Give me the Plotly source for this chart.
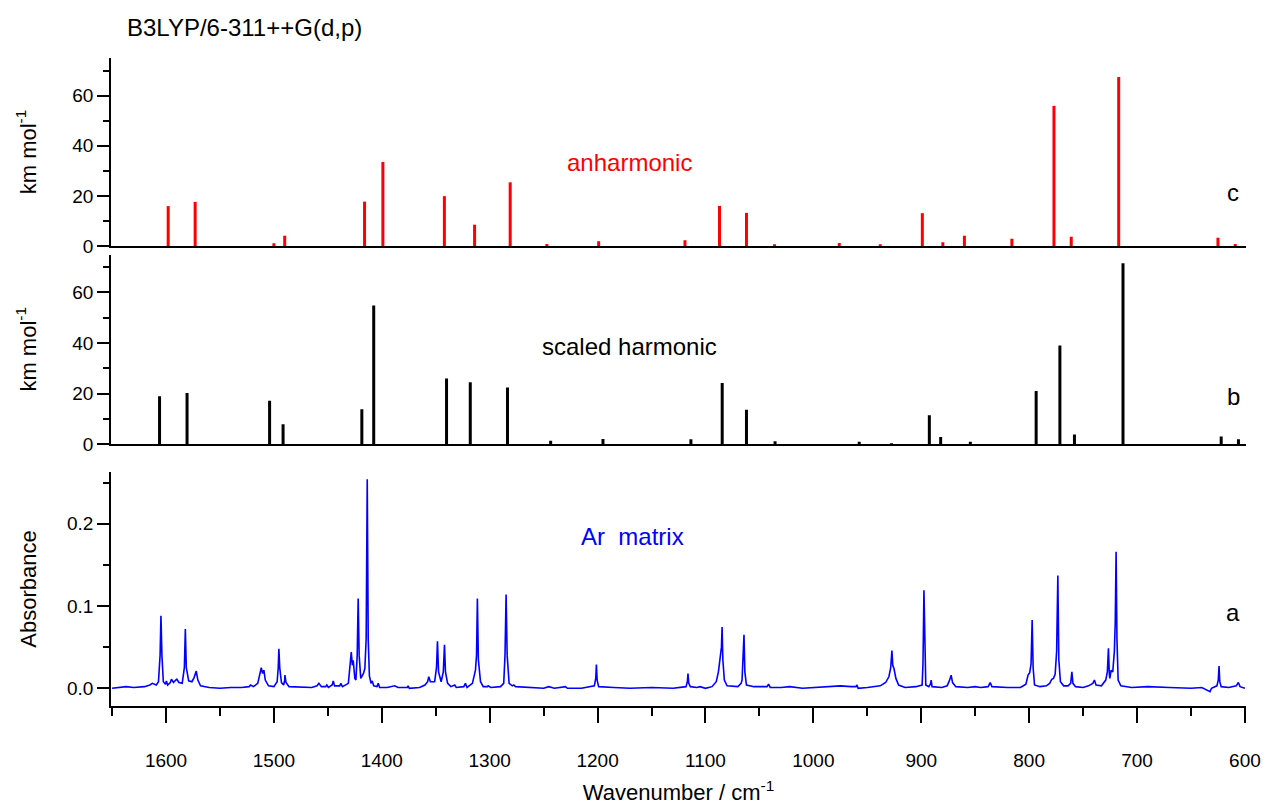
import plotly.graph_objects as go

# ---------------- data ----------------
# (c) anharmonic calculated intensities
anh_wn = [1598, 1573, 1500, 1490, 1416, 1399, 1342, 1314, 1281, 1247, 1199, 1119,
          1087, 1062, 1036, 976, 938, 899, 880, 860, 816, 777, 761, 717, 625, 609]
anh_int = [15.9, 17.6, 1.1, 4.1, 17.7, 33.5, 19.9, 8.5, 25.4, 0.8, 1.9, 2.3,
           16.0, 13.2, 0.7, 1.2, 0.7, 13.1, 1.5, 4.1, 2.9, 55.9, 3.7, 67.4, 3.3, 0.8]

# (b) scaled harmonic calculated intensities
harm_wn = [1606, 1580.5, 1504, 1491.5, 1418.5, 1407.5, 1340, 1318, 1283.5, 1243.5, 1195, 1113.5,
           1084.5, 1062, 1035.5, 957.5, 927.5, 892.5, 882, 854.5, 793.5, 771.5, 758, 713, 622, 606]
harm_int = [18.9, 20.2, 17.1, 7.8, 13.8, 54.8, 25.9, 24.5, 22.4, 1.3, 2.0, 1.9,
            24.2, 13.6, 1.1, 0.9, 0.3, 11.4, 2.8, 0.9, 21.0, 39.0, 3.8, 71.6, 3.0, 1.9]

# (a) Ar matrix IR spectrum (wavenumber, absorbance)
spec_wn = [
    1650, 1645, 1637, 1630, 1620, 1615, 1612.7, 1609, 1607, 1605.5, 1604.7, 1603.8, 1602.5,
    1600.5, 1599.7, 1598.5, 1596, 1595, 1593, 1591, 1590, 1588, 1585, 1583, 1582.1, 1581.2,
    1579, 1576, 1574, 1572, 1570.5, 1568, 1560, 1550, 1540, 1530, 1523, 1521.6, 1519, 1515,
    1512.5, 1511.7, 1510.5, 1509.3, 1508, 1505, 1500, 1497, 1496, 1495.4, 1494.6, 1493, 1491,
    1490, 1489.8, 1488.8, 1486, 1475, 1465, 1460, 1458.3, 1456, 1452, 1451, 1449.5, 1446, 1445,
    1443.8, 1439, 1438, 1436.5, 1431, 1429.5, 1428.3, 1427.3, 1426.5, 1425, 1424, 1422.8,
    1421.9, 1421, 1419.5, 1417, 1415.7, 1414.5, 1413.5, 1412.6, 1411.5, 1410, 1408.9, 1407.5,
    1404.5, 1403.3, 1402, 1395, 1388, 1385, 1376.5, 1375.6, 1374.5, 1365, 1360, 1357.5, 1356.5,
    1355, 1351, 1349.3, 1348.4, 1347.4, 1345, 1343, 1341.9, 1341, 1339, 1336, 1332.4, 1331,
    1324, 1322.5, 1321, 1316, 1313.2, 1312.2, 1311.4, 1310.5, 1308.5, 1306, 1302, 1301.4, 1299,
    1290, 1287, 1285.8, 1284.8, 1283.8, 1282, 1279, 1277.7, 1276, 1265, 1250, 1245.3, 1240,
    1229.8, 1228, 1215, 1203, 1201.7, 1201.1, 1200.4, 1199, 1185, 1170, 1150, 1130, 1118,
    1116.8, 1116.2, 1115.5, 1114, 1108, 1105, 1100, 1094, 1090, 1088, 1086.2, 1085.2, 1084.6,
    1083.9, 1082.5, 1080, 1070, 1067, 1066.1, 1065.2, 1064.3, 1063.5, 1062, 1055, 1043, 1041.5,
    1040, 1030, 1022, 1010, 1000, 985, 975, 965, 960.5, 959.6, 958.5, 950, 938, 933, 930, 928.3,
    927.2, 926.4, 925.3, 923.5, 921, 915, 905, 899.2, 898.4, 897.5, 896.7, 895.8, 893, 891.5,
    890.8, 890, 881, 876, 874, 872.3, 871, 868, 857, 850, 845, 838, 836.1, 834.5, 820, 808, 803,
    801, 799.5, 798.2, 797.2, 796.3, 795, 790, 784, 781, 779, 777.5, 775.9, 774.5, 773.4, 772.5,
    771, 768, 764, 761.5, 760.4, 759.4, 757, 750, 745, 741, 739.5, 738, 733, 729, 727.5, 726.5,
    725.7, 725.2, 724, 722.5, 721, 720.2, 719.4, 718.6, 717.5, 715, 705, 690, 670, 650, 640, 635,
    632.3, 631, 626, 624.7, 624, 623.3, 622, 615, 608, 606.1, 604.5, 600]
spec_abs = [
    0.000, 0.001, 0.002, 0.001, 0.002, 0.004, 0.006, 0.004, 0.008, 0.040, 0.088, 0.040, 0.008,
    0.005, 0.009, 0.004, 0.007, 0.011, 0.007, 0.010, 0.011, 0.007, 0.006, 0.025, 0.072, 0.025,
    0.009, 0.008, 0.013, 0.021, 0.010, 0.003, 0.001, 0.000, 0.001, 0.001, 0.002, 0.004, 0.002, 0.006,
    0.018, 0.025, 0.018, 0.022, 0.010, 0.003, 0.002, 0.008, 0.025, 0.048, 0.025, 0.007, 0.004,
    0.010, 0.016, 0.007, 0.002, 0.001, 0.001, 0.003, 0.006, 0.002, 0.002, 0.004, 0.001, 0.004, 0.009,
    0.003, 0.003, 0.006, 0.002, 0.006, 0.025, 0.044, 0.028, 0.034, 0.012, 0.010, 0.040,
    0.109, 0.040, 0.012, 0.018, 0.024, 0.060, 0.254, 0.060, 0.015, 0.006, 0.009, 0.003,
    0.002, 0.006, 0.001, 0.001, 0.003, 0.001, 0.001, 0.003, 0.000, 0.001, 0.004, 0.008, 0.014,
    0.008, 0.008, 0.025, 0.057, 0.020, 0.008, 0.020, 0.053, 0.020, 0.006, 0.002, 0.004, 0.001,
    0.002, 0.006, 0.001, 0.006, 0.022, 0.040, 0.109, 0.035, 0.008, 0.002, 0.002, 0.003, 0.001,
    0.002, 0.006, 0.040, 0.114, 0.040, 0.006, 0.003, 0.004, 0.002, 0.001, 0.000, 0.002, 0.000,
    0.002, 0.000, 0.000, 0.003, 0.012, 0.029, 0.010, 0.002, 0.001, 0.000, 0.001, 0.000, 0.002,
    0.008, 0.018, 0.006, 0.002, 0.001, 0.002, 0.000, 0.002, 0.008, 0.020, 0.043, 0.050, 0.0745,
    0.035, 0.010, 0.003, 0.002, 0.006, 0.010, 0.030, 0.065, 0.020, 0.004, 0.002, 0.002, 0.005,
    0.001, 0.001, 0.002, 0.000, 0.001, 0.002, 0.003, 0.002, 0.002, 0.004, 0.000, 0.001, 0.003, 0.007, 0.014, 0.025,
    0.046, 0.028, 0.024, 0.012, 0.004, 0.001, 0.002, 0.004, 0.030, 0.119, 0.030, 0.004, 0.002, 0.005,
    0.010, 0.002, 0.001, 0.003, 0.009, 0.016, 0.007, 0.002, 0.001, 0.002, 0.001, 0.002, 0.007, 0.002, 0.001, 0.001, 0.005,
    0.016, 0.019, 0.030, 0.083, 0.025, 0.004, 0.002, 0.003, 0.006, 0.011, 0.012, 0.017, 0.045, 0.137, 0.035,
    0.008, 0.003, 0.003, 0.006, 0.020, 0.006, 0.002, 0.001, 0.003, 0.006, 0.010, 0.004, 0.003, 0.010, 0.020, 0.0486,
    0.018, 0.012, 0.022, 0.020, 0.045, 0.080, 0.166, 0.060, 0.010, 0.003, 0.001, 0.002, 0.001, 0.000, 0.001, -0.002,
    -0.004, 0.000, 0.003, 0.010, 0.027, 0.008, 0.002, 0.001, 0.003, 0.007, 0.002, 0.000]

# labels
panel_title = "B3LYP/6-311++G(d,p)"
label_c, label_b, label_a = "anharmonic", "scaled harmonic", "Ar  matrix"
x_title = "Wavenumber / cm<sup>-1</sup>"
y_title_calc = "km mol<sup>-1</sup>"
y_title_exp = "Absorbance"


def sticks(wn, inten):
    xs, ys = [], []
    for w, h in zip(wn, inten):
        xs += [w, w, None]
        ys += [0, h, None]
    return xs, ys


FONT = "Arial, Liberation Sans, sans-serif"
XR = [1651, 599]

fig = go.Figure()
ax, ay = sticks(anh_wn, anh_int)
fig.add_trace(go.Scatter(x=ax, y=ay, mode="lines", line=dict(color="#ff0000", width=3),
                         xaxis="x", yaxis="y", showlegend=False, hoverinfo="skip"))
hx, hy = sticks(harm_wn, harm_int)
fig.add_trace(go.Scatter(x=hx, y=hy, mode="lines", line=dict(color="#000000", width=3),
                         xaxis="x2", yaxis="y2", showlegend=False, hoverinfo="skip"))
fig.add_trace(go.Scatter(x=spec_wn, y=spec_abs, mode="lines", line=dict(color="#0000ff", width=1.6),
                         xaxis="x3", yaxis="y3", showlegend=False))

axis_common = dict(showgrid=False, zeroline=False, linecolor="black", linewidth=1.5, automargin=False,
                   tickcolor="black", tickwidth=1.5, tickfont=dict(family=FONT, size=19, color="black"))

yax_km = dict(range=[0, 75], tickvals=[0, 20, 40, 60], ticks="outside", ticklen=12,
              showline=True, minor=dict(tickvals=[10, 30, 50, 70], ticks="outside", ticklen=6,
                                        tickcolor="black", tickwidth=1.5),
              title=dict(text=y_title_calc, font=dict(family=FONT, size=22, color="black"), standoff=30),
              **axis_common)

fig.update_layout(
    width=1265, height=805,
    margin=dict(l=111, r=19, t=58, b=99, autoexpand=False),
    paper_bgcolor="white", plot_bgcolor="white",
    font=dict(family=FONT, color="black"),
    xaxis=dict(domain=[0, 1], range=XR, anchor="y", matches="x3", showline=True, ticks="",
               showticklabels=False, **axis_common),
    xaxis2=dict(domain=[0, 1], range=XR, anchor="y2", matches="x3", showline=True, ticks="",
                showticklabels=False, **axis_common),
    xaxis3=dict(domain=[0, 1], range=XR, anchor="y3", showline=True, ticks="outside", ticklen=15,
                tickvals=[1600, 1500, 1400, 1300, 1200, 1100, 1000, 900, 800, 700, 600],
                ticklabelstandoff=21,
                minor=dict(dtick=50, tick0=600, ticks="outside", ticklen=8, tickcolor="black", tickwidth=1.5),
                title=dict(text=x_title, font=dict(family=FONT, size=22, color="black"), standoff=19),
                **axis_common),
    yaxis=dict(domain=[0.7099, 1.0], anchor="x", **yax_km),
    yaxis2=dict(domain=[0.4043, 0.6966], anchor="x2", **yax_km),
    yaxis3=dict(domain=[0.0, 0.3611], anchor="x3", range=[-0.0215, 0.2628],
                tickvals=[0.0, 0.1, 0.2], tickformat=".1f", ticks="outside", ticklen=12, showline=True,
                minor=dict(tickvals=[0.05, 0.15, 0.25], ticks="outside", ticklen=6,
                           tickcolor="black", tickwidth=1.5),
                title=dict(text=y_title_exp, font=dict(family=FONT, size=22, color="black"), standoff=24),
                **axis_common),
)

ann_font = dict(family=FONT, size=24)
fig.add_annotation(text=panel_title, xref="paper", yref="paper", x=0.0123, y=1.0463,
                   xanchor="left", yanchor="middle", showarrow=False,
                   font=dict(family=FONT, size=24, color="black"))
fig.add_annotation(text=label_c, x=1170.5, y=33.3, xref="x", yref="y", showarrow=False,
                   font=dict(color="#ff0000", **ann_font))
fig.add_annotation(text="c", x=611, y=21.4, xref="x", yref="y", showarrow=False,
                   font=dict(color="black", **ann_font))
fig.add_annotation(text=label_b, x=1170.5, y=38.8, xref="x2", yref="y2", showarrow=False,
                   font=dict(color="black", **ann_font))
fig.add_annotation(text="b", x=611, y=19.0, xref="x2", yref="y2", showarrow=False,
                   font=dict(color="black", **ann_font))
fig.add_annotation(text=label_a.replace("  ", "&nbsp;&nbsp;"), x=1167.8, y=0.184, xref="x3", yref="y3",
                   showarrow=False, font=dict(color="#0000ff", **ann_font))
fig.add_annotation(text="a", x=611, y=0.0915, xref="x3", yref="y3", showarrow=False,
                   font=dict(color="black", **ann_font))

# remove the default page margin so the 1265x805 figure fills the window exactly
fig.write_html("out.html", config={"displayModeBar": False},
               post_script="document.body.style.margin='0';document.body.style.overflow='hidden';")
